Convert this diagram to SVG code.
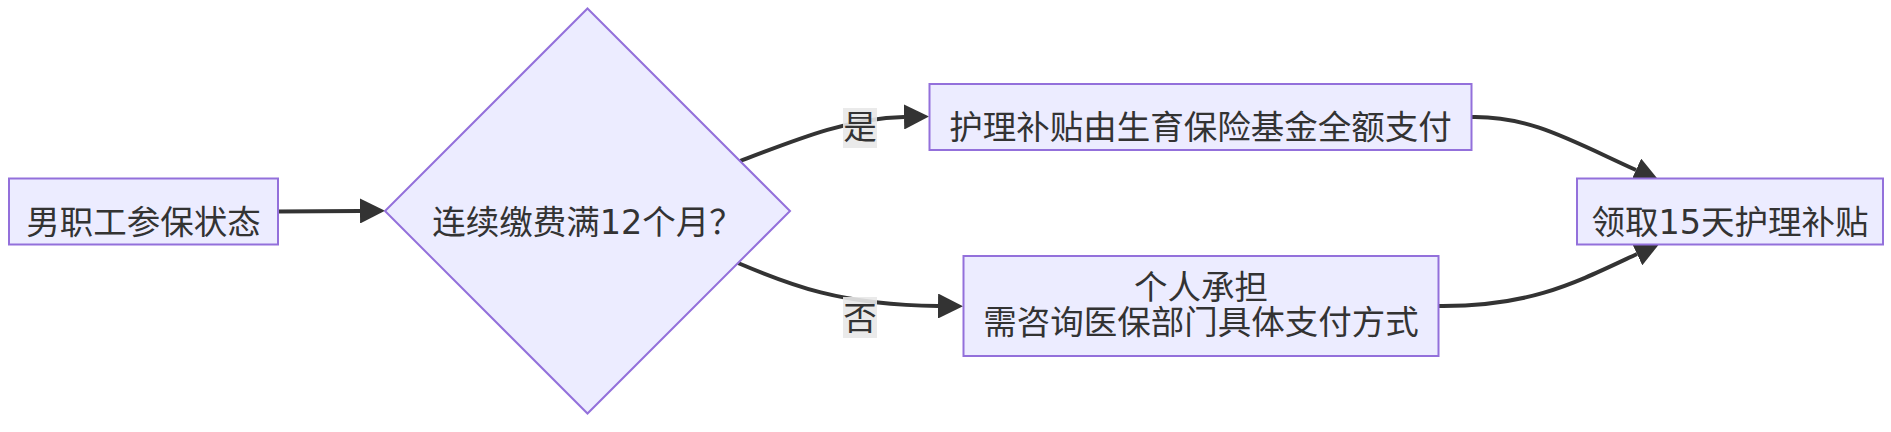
<svg xmlns="http://www.w3.org/2000/svg" width="1891" height="432" viewBox="0 0 1891 432">
<style>
.node{fill:#ECECFF;stroke:#9370DB;stroke-width:2}
.lbl{font-family:"DejaVu Sans","Noto Sans CJK SC",sans-serif;font-size:33.5px;fill:#333333;text-anchor:middle}
.edge{fill:none;stroke:#333333;stroke-width:4}
.elbg{fill:#e8e8e8;opacity:0.9}
</style>
<defs>
<marker id="arrow" viewBox="0 0 10 10" refX="0" refY="5" markerUnits="userSpaceOnUse" markerWidth="25" markerHeight="25" orient="auto">
<path d="M0,0 L10,5 L0,10 z" fill="#333333"/>
</marker>
</defs>
<rect width="1891" height="432" fill="#ffffff"/>
<g id="connectors">
<path class="edge" d="M278,211.5 L360,211" marker-end="url(#arrow)"/>
<path class="edge" d="M740,161 C800,138 850,118 904,117" marker-end="url(#arrow)"/>
<path class="edge" d="M738,263 C790,285 840,305 938,306" marker-end="url(#arrow)"/>
<path class="edge" d="M1472,117 C1530,116 1570,140 1636,170" marker-end="url(#arrow)"/>
<path class="edge" d="M1438,306 C1530,307 1575,283 1637,254" marker-end="url(#arrow)"/>
</g>
<g id="edge-labels">
<g id="label-yes">
<rect class="elbg" x="843" y="108" width="34" height="40"/>
<text class="lbl" x="860" y="139">是</text>
</g>
<g id="label-no">
<rect class="elbg" x="843" y="297" width="34" height="41"/>
<text class="lbl" x="860" y="330">否</text>
</g>
</g>
<g id="node-A">
<rect class="node" x="9" y="178.5" width="269" height="66"/>
<text class="lbl" x="143.5" y="234">男职工参保状态</text>
</g>
<g id="node-B">
<polygon class="node" points="587.5,8.5 790,211 587.5,413.5 385,211"/>
<text class="lbl" x="587.5" y="234">连续缴费满12个月？</text>
</g>
<g id="node-C">
<rect class="node" x="929.5" y="84" width="542" height="66"/>
<text class="lbl" x="1200.5" y="139">护理补贴由生育保险基金全额支付</text>
</g>
<g id="node-D">
<rect class="node" x="963.5" y="256" width="475" height="100"/>
<text class="lbl" x="1201" y="299">个人承担</text>
<text class="lbl" x="1201" y="334">需咨询医保部门具体支付方式</text>
</g>
<g id="node-E">
<rect class="node" x="1577" y="178.5" width="306" height="66"/>
<text class="lbl" x="1730" y="234">领取15天护理补贴</text>
</g>
</svg>
